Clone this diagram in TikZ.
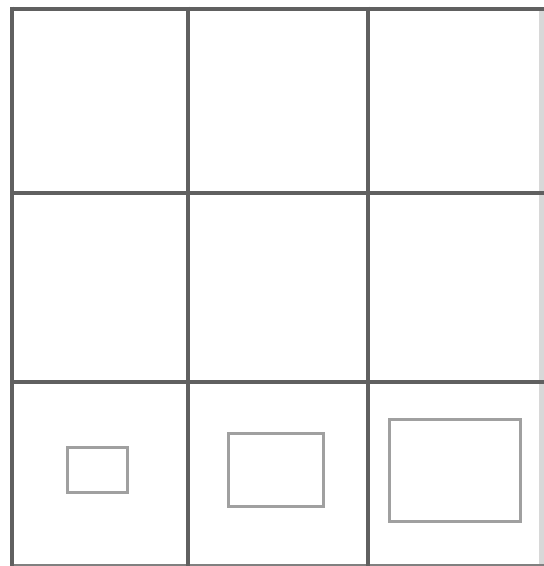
\documentclass[tikz,border=0pt]{standalone}
\definecolor{gridc}{HTML}{606060}
\definecolor{boxc}{HTML}{A0A0A0}
\definecolor{edgec}{HTML}{D8D8D8}
\begin{document}
\begin{tikzpicture}[x=1pt,y=-1pt,
  gridline/.style={draw=gridc,line width=4pt},
  boxline/.style={draw=boxc,line width=3pt},
  edgeline/.style={draw=edgec,line width=5pt}]
\useasboundingbox (0,0) rectangle (544,566);
\fill[white] (0,0) rectangle (544,566);
% light right and bottom edges
\draw[edgeline] (541.5,8) -- (541.5,566);
\draw[draw=gridc!80,line width=3pt] (12,565) -- (544,565);
% grid
\draw[gridline] (12,8.5) -- (544,8.5);
\draw[gridline] (12,192.5) -- (544,192.5);
\draw[gridline] (12,381.5) -- (544,381.5);
\draw[gridline] (12,6.5) -- (12,566);
\draw[gridline] (188,6.5) -- (188,566);
\draw[gridline] (368,6.5) -- (368,566);
% boxes in the bottom row
\node[boxline,minimum width=60pt,minimum height=45pt,inner sep=0pt] (b1) at (97,470) {};
\node[boxline,minimum width=95pt,minimum height=73pt,inner sep=0pt] (b2) at (276,470) {};
\node[boxline,minimum width=131pt,minimum height=102pt,inner sep=0pt] (b3) at (455,470.5) {};
\end{tikzpicture}
\end{document}
